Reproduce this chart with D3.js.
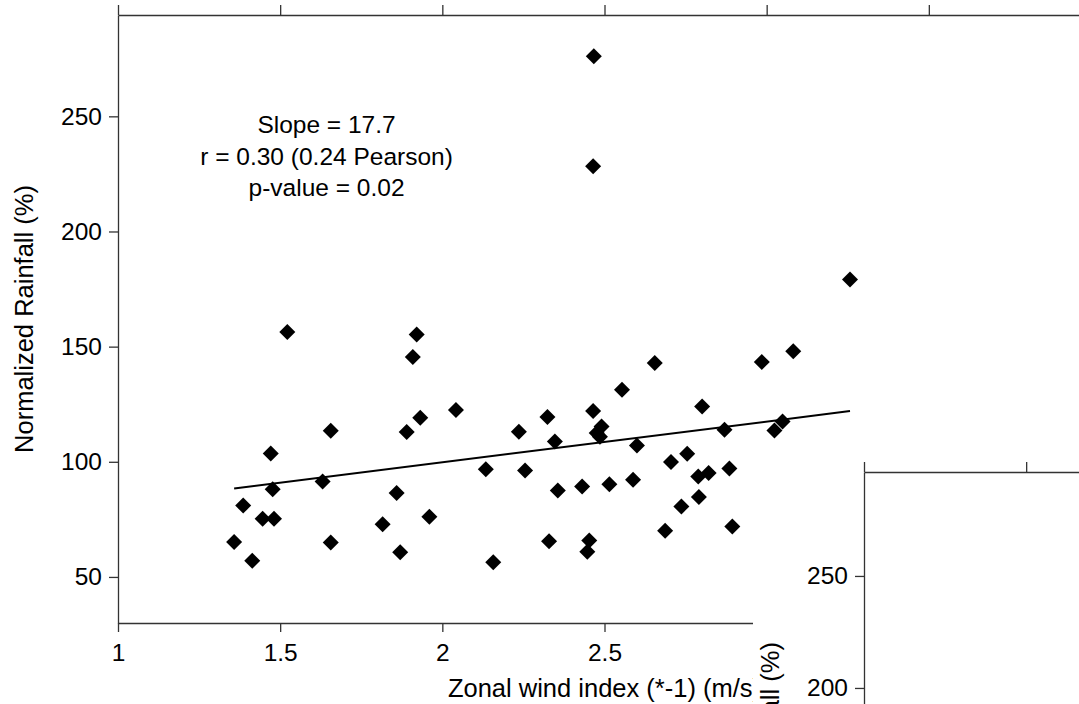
<!DOCTYPE html>
<html>
<head>
<meta charset="utf-8">
<script src="https://cdn.jsdelivr.net/npm/d3@7"></script>
<style>
  html, body { margin: 0; padding: 0; background: #fff; }
  svg { display: block; font-family: "Liberation Sans", Arial, Helvetica, sans-serif; }
</style>
</head>
<body>
<svg id="chart" width="1079" height="704"></svg>
<script>
// values
const windIndex = [1.358, 1.386, 1.414, 1.446, 1.471, 1.477, 1.481, 1.522, 1.631, 1.656,
    1.656, 1.816, 1.859, 1.870, 1.890, 1.909, 1.921, 1.932, 1.960, 2.042,
    2.134, 2.157, 2.236, 2.255, 2.324, 2.329, 2.347, 2.356, 2.431, 2.447,
    2.453, 2.465, 2.465, 2.467, 2.476, 2.486, 2.491, 2.515, 2.554, 2.588,
    2.600, 2.655, 2.687, 2.705, 2.737, 2.755, 2.789, 2.791, 2.801, 2.821,
    2.870, 2.885, 2.894, 2.985, 3.024, 3.049, 3.082, 3.257];
const rainfall = [65.2, 81.0, 57.0, 75.3, 103.6, 88.1, 75.3, 156.4, 91.4, 113.5,
    64.9, 72.9, 86.4, 60.7, 112.9, 145.5, 155.3, 119.1, 76.1, 122.5,
    96.8, 56.4, 113.0, 96.2, 119.4, 65.5, 108.8, 87.5, 89.3, 60.9,
    65.8, 122.0, 228.3, 276.1, 112.5, 110.9, 115.3, 90.3, 131.3, 92.2,
    107.1, 142.9, 70.1, 99.9, 80.6, 103.5, 93.6, 84.7, 124.0, 95.1,
    113.9, 97.1, 71.9, 143.3, 113.6, 117.5, 148.0, 179.1];

const fitSlope = 17.7;
const fitIntercept = 64.36;

const statsLines = ['Slope = 17.7', 'r = 0.30 (0.24 Pearson)', 'p-value = 0.02'];

const xTicks = [1, 1.5, 2, 2.5, 3, 3.5, 4];
const yTicks = [50, 100, 150, 200, 250];

const xLabel = 'Zonal wind index (*-1) (m/s)';
const yLabel = 'Normalized Rainfall (%)';

const svg = d3.select('#chart');
const fontSize = 24.5;
const labelSize = 25.5;
const axisColor = '#333';

let drawFrame = (g, x, y) => {
    let styleAxis = sel => {
        sel.select('.domain').attr('stroke', axisColor).attr('stroke-width', 1.3);
        sel.selectAll('.tick line').attr('stroke', axisColor).attr('stroke-width', 1.3);
        sel.selectAll('.tick text').attr('fill', '#000').attr('font-size', fontSize);
        sel.attr('font-family', null).attr('font-size', null);
    }

    g.append('g')
        .attr('transform', `translate(0,${y.range()[0]})`)
        .call(d3.axisBottom(x).tickValues(xTicks).tickFormat(d3.format('')).tickSize(9).tickSizeOuter(0).tickPadding(12))
        .call(styleAxis);

    g.append('g')
        .attr('transform', `translate(0,${y.range()[1]})`)
        .call(d3.axisTop(x).tickValues(xTicks).tickFormat('').tickSize(10).tickSizeOuter(0))
        .call(styleAxis);

    g.append('g')
        .attr('transform', `translate(${x.range()[0]},0)`)
        .call(d3.axisLeft(y).tickValues(yTicks).tickSize(9).tickSizeOuter(0).tickPadding(7))
        .call(styleAxis);

    g.append('text')
        .attr('x', (x.range()[0] + x.range()[1]) / 2)
        .attr('y', 697)
        .attr('text-anchor', 'middle')
        .attr('font-size', labelSize)
        .text(xLabel);

    g.append('text')
        .attr('transform', `translate(33,${(y.range()[0] + y.range()[1]) / 2}) rotate(-90)`)
        .attr('text-anchor', 'middle')
        .attr('font-size', labelSize)
        .text(yLabel);
}

// main panel
const x = d3.scaleLinear().domain([1, 4]).range([118, 1091]);
const y = d3.scaleLinear().domain([30, 294]).range([623, 15]);

const main = svg.append('g');
drawFrame(main, x, y);

const xMin = d3.min(windIndex), xMax = d3.max(windIndex);
main.append('line')
    .attr('x1', x(xMin)).attr('y1', y(fitIntercept + fitSlope * xMin))
    .attr('x2', x(xMax)).attr('y2', y(fitIntercept + fitSlope * xMax))
    .attr('stroke', '#000')
    .attr('stroke-width', 2);

const diamond = d3.symbol(d3.symbolSquare, 128);
main.append('g')
    .selectAll('path')
    .data(windIndex.map((w, i) => ({w: w, r: rainfall[i]})))
    .join('path')
        .attr('d', diamond)
        .attr('transform', d => `translate(${x(d.w)},${y(d.r)}) rotate(45)`)
        .attr('fill', '#000');

main.append('g')
    .selectAll('text')
    .data(statsLines)
    .join('text')
        .attr('x', x(1.643))
        .attr('y', (d, i) => y(242.6) + i * 31.5)
        .attr('text-anchor', 'middle')
        .attr('font-size', fontSize)
        .text(d => d);

// next panel of the figure, overlapping the bottom right corner
const next = svg.append('g').attr('transform', 'translate(746,457)');
next.append('rect')
    .attr('x', 7).attr('y', -2)
    .attr('width', 400).attr('height', 400)
    .attr('fill', '#fff');
const y2 = d3.scaleLinear().domain([25, 296.4]).range([623, 15]);
drawFrame(next, x, y2);
</script>
</body>
</html>
